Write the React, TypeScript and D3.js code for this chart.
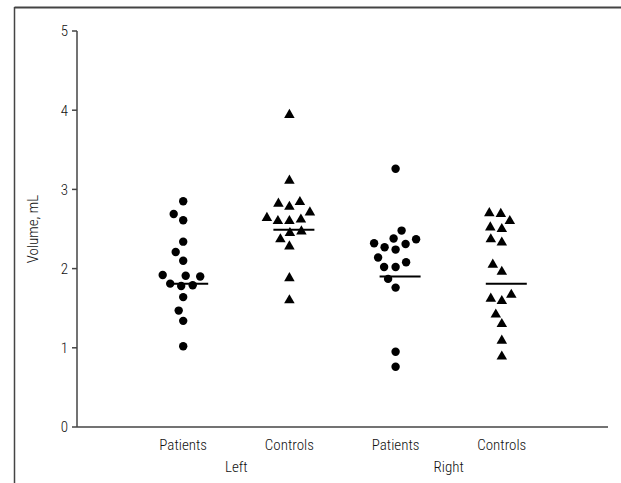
import React from 'react';
import * as d3 from 'd3';

// groups along the x axis
const groups = ['Left Patients', 'Left Controls', 'Right Patients', 'Right Controls'];
const groupLabels = ['Patients', 'Controls', 'Patients', 'Controls'];
const sides = ['Left', 'Right'];
const yTicks = [0, 1, 2, 3, 4, 5];

// volume (mL) per subject
const leftPatients = [2.85, 2.69, 2.61, 2.34, 2.21, 2.10, 1.92, 1.91, 1.90, 1.81, 1.79, 1.78, 1.64, 1.47, 1.34, 1.02];
const leftControls = [3.94, 3.11, 2.84, 2.82, 2.78, 2.71, 2.64, 2.62, 2.60, 2.60, 2.47, 2.45, 2.37, 2.28, 1.88, 1.60];
const rightPatients = [3.26, 2.48, 2.38, 2.37, 2.32, 2.31, 2.27, 2.24, 2.14, 2.08, 2.02, 2.02, 1.87, 1.76, 0.95, 0.76];
const rightControls = [2.70, 2.69, 2.60, 2.52, 2.50, 2.37, 2.33, 2.05, 1.96, 1.67, 1.62, 1.59, 1.42, 1.30, 1.09, 0.89];
// horizontal line per group
const groupLines = [1.81, 2.49, 1.90, 1.81];

const W = 621;
const H = 483;
const margin = { top: 31, right: 13, bottom: 56, left: 77 };
const font = '"Roboto Condensed", "Liberation Sans Narrow", "Liberation Sans", Arial, sans-serif';
const axisColor = '#444';

// simple beeswarm: place each point at the nearest free horizontal offset
function swarm(ys: number[], r: number) {
  const placed: { x: number; y: number }[] = [];
  const order = ys.map((y, i) => i).sort((a, b) => ys[b] - ys[a]);
  const out: number[] = new Array(ys.length).fill(0);
  order.forEach(i => {
    const y = ys[i];
    for (let k = 0; k < 200; k++) {
      const dx = (k % 2 === 0 ? 1 : -1) * Math.ceil(k / 2) * 0.5;
      const ok = placed.every(p => (p.x - dx) ** 2 + (p.y - y) ** 2 >= (2 * r) ** 2);
      if (ok) {
        out[i] = dx;
        placed.push({ x: dx, y });
        break;
      }
    }
  });
  return out;
}

export default function App() {
  const series = [leftPatients, leftControls, rightPatients, rightControls];

  const x = d3.scalePoint<string>()
    .domain(groups)
    .range([margin.left, W - margin.right])
    .padding(1);
  const y = d3.scaleLinear()
    .domain([0, 5])
    .range([H - margin.bottom, margin.top]);

  const tri = d3.symbol().type(d3.symbolTriangle).size(48)();

  return (
    <svg width={W} height={H} style={{ position: 'absolute', left: 0, top: 0, background: '#fff' }}
      fontFamily={font}>
      {/* frame */}
      <line x1={14.5} x2={W} y1={7.5} y2={7.5} stroke={axisColor} strokeWidth={2} />
      <line x1={14.5} x2={14.5} y1={7} y2={H} stroke={axisColor} strokeWidth={1.5} />

      {/* y axis */}
      <line x1={margin.left} x2={margin.left} y1={y(5)} y2={y(0)} stroke={axisColor} strokeWidth={1.5} />
      {yTicks.map(t => (
        <g key={t} transform={`translate(${margin.left},${y(t)})`}>
          <line x1={-5} x2={0} stroke={axisColor} strokeWidth={1.5} />
          <text x={-9} dy="0.36em" textAnchor="end" fontSize={15} fontWeight={300} fill="#111">{t}</text>
        </g>
      ))}
      <text transform={`translate(38,${(y(0) + y(5)) / 2}) rotate(-90)`} textAnchor="middle"
        fontSize={15} fontWeight={300} fill="#111">Volume, mL</text>

      {/* x axis */}
      <line x1={margin.left} x2={W - margin.right} y1={y(0)} y2={y(0)} stroke={axisColor} strokeWidth={1.5} />
      {groups.map((g, i) => (
        <text key={g} x={x(g)} y={y(0) + 23} textAnchor="middle" fontSize={15} fontWeight={300} fill="#111">{groupLabels[i]}</text>
      ))}
      {sides.map((s, i) => (
        <text key={s} x={((x(groups[i * 2]) as number) + (x(groups[i * 2 + 1]) as number)) / 2}
          y={y(0) + 45} textAnchor="middle" fontSize={15} fontWeight={300} fill="#111">{s}</text>
      ))}

      {/* points */}
      {series.map((vals, gi) => {
        const cx = x(groups[gi]) as number;
        const offs = swarm(vals.map(v => y(v)), 5.6);
        return (
          <g key={gi}>
            {vals.map((v, i) => gi % 2 === 0
              ? <circle key={i} cx={cx + offs[i]} cy={y(v)} r={4.2} fill="#000" />
              : <path key={i} d={tri as string} transform={`translate(${cx + offs[i]},${y(v)})`} fill="#000" />
            )}
            <line x1={cx - 16} x2={cx + 25} y1={y(groupLines[gi])} y2={y(groupLines[gi])}
              stroke="#000" strokeWidth={2} />
          </g>
        );
      })}
    </svg>
  );
}
